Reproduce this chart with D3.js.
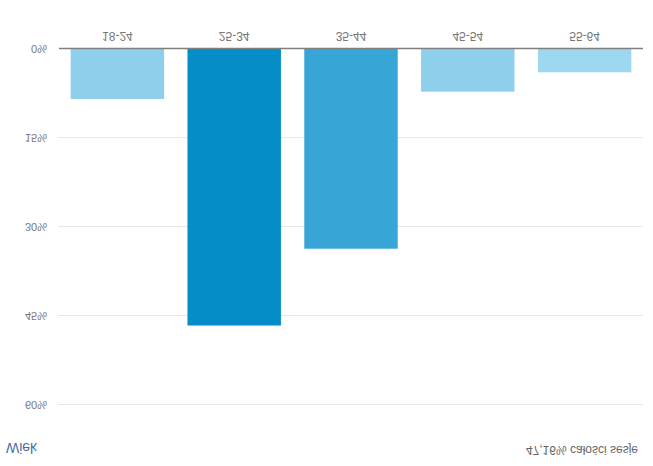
<!DOCTYPE html>
<html>
<head>
<meta charset="utf-8">
<script src="https://cdn.jsdelivr.net/npm/d3@7/dist/d3.min.js"></script>
<style>
  html, body { margin: 0; padding: 0; background: #fff; }
  svg { display: block; transform: scaleY(-1); font-family: "Liberation Sans", Arial, sans-serif; }
</style>
</head>
<body>
<div id="chart"></div>
<script>
const categories = ["18-24", "25-34", "35-44", "45-54", "55-64"];
const values = [8.43, 46.6, 33.66, 7.19, 3.93];
const barColors = ["#8ecfeb", "#058dc7", "#38a5d7", "#8ecfec", "#9dd8f0"];
const yTicks = [0, 15, 30, 45, 60];
const titleText = "Wiek";
const noteText = "47,16% całości sesje";

const W = 653, H = 466;
const svg = d3.select("#chart").append("svg").attr("width", W).attr("height", H);

const x = d3.scaleBand().domain(categories).range([59, 643]).paddingInner(0.2).paddingOuter(0.1);
const y = d3.scaleLinear().domain([0, 60]).range([417, 61]);

// gridlines
svg.append("g").selectAll("line").data(yTicks.slice(1)).join("line")
  .attr("x1", 58).attr("x2", 643)
  .attr("y1", d => y(d) + 0.5).attr("y2", d => y(d) + 0.5)
  .attr("stroke", "#e8e8e8").attr("stroke-width", 1);

// y tick labels
svg.append("g").selectAll("text").data(yTicks).join("text")
  .attr("x", 47).attr("y", d => y(d)).attr("dy", "0.35em")
  .attr("text-anchor", "end").attr("font-size", 11).attr("fill", "#777")
  .text(d => d + "%");

// bars
svg.append("g").selectAll("rect").data(categories).join("rect")
  .attr("x", d => x(d)).attr("width", x.bandwidth())
  .attr("y", (d, i) => y(values[i])).attr("height", (d, i) => y(0) - y(values[i]))
  .attr("fill", (d, i) => barColors[i]);

// baseline axis
svg.append("line").attr("x1", 59).attr("x2", 643)
  .attr("y1", y(0) + 0.5).attr("y2", y(0) + 0.5)
  .attr("stroke", "#808080").attr("stroke-width", 1.5);

// category labels
svg.append("g").selectAll("text").data(categories).join("text")
  .attr("x", d => x(d) + x.bandwidth() / 2).attr("y", 434)
  .attr("text-anchor", "middle").attr("font-size", 12).attr("fill", "#777")
  .text(d => d);

// title & note
svg.append("text").attr("x", 6).attr("y", 23).attr("font-size", 14)
  .attr("fill", "#4d6ea3").text(titleText);
svg.append("text").attr("x", 638).attr("y", 20).attr("text-anchor", "end")
  .attr("font-size", 12).attr("fill", "#666").text(noteText);
</script>
</body>
</html>
